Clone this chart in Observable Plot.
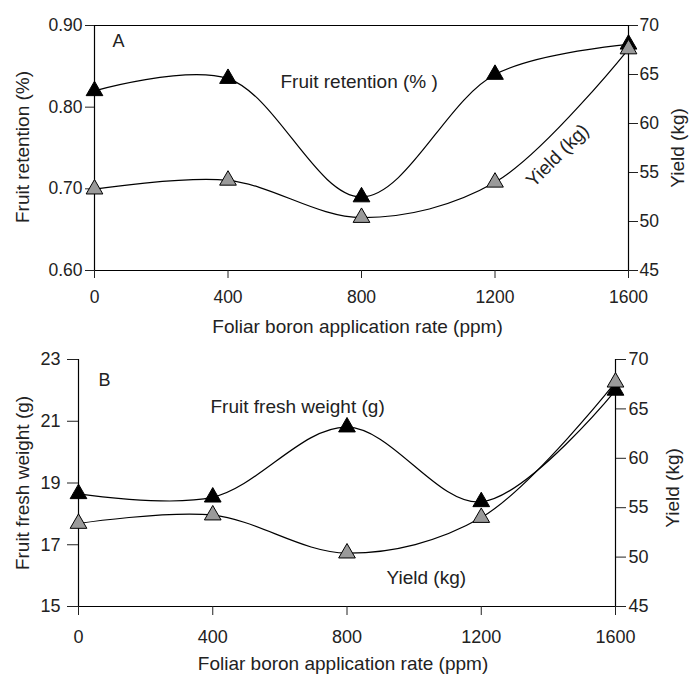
<!DOCTYPE html>
<html>
<head>
<meta charset="utf-8">
<script src="https://cdn.jsdelivr.net/npm/d3@7"></script>
<script src="https://cdn.jsdelivr.net/npm/@observablehq/plot@0.6"></script>
<style>
  body { margin: 0; background: #fff; }
  #chart svg { display: block; }
</style>
</head>
<body>
<div id="chart"></div>
<script>
// ---- data ----
const rates = [0, 400, 800, 1200, 1600];
const fruitRetention = [0.82, 0.835, 0.69, 0.84, 0.877];   // panel A, left axis
const yieldA = [53.3, 54.2, 50.4, 54.0, 67.6];              // panel A, right axis (kg)
const fruitWeight = [18.65, 18.54, 20.81, 18.39, 22.0];     // panel B, left axis (g)
const yieldB = [53.4, 54.25, 50.4, 54.0, 67.7];             // panel B, right axis (kg)
const rateTicks = [0, 400, 800, 1200, 1600];
const retentionTicks = [0.6, 0.7, 0.8, 0.9];
const weightTicks = [15, 17, 19, 21, 23];
const yieldTicks = [45, 50, 55, 60, 65, 70];
const yieldDomain = [45, 70];
const retentionDomain = [0.6, 0.9];
const weightDomain = [15, 23];
const xTitle = "Foliar boron application rate (ppm)";

const font = "'Liberation Sans', Arial, Helvetica, sans-serif";
const ink = "#222";

// map right-axis (yield) values into the left-axis domain
const toLeft = (dom) => d3.scaleLinear().domain(yieldDomain).range(dom);

function panel(opts) {
  const {leftDomain, leftTicks, leftFormat, leftVals, yieldVals, height,
         marginTop, marginBottom, marginLeft, marginRight, box, cfg} = opts;
  const map = toLeft(leftDomain);
  const black = rates.map((r, i) => ({x: r, y: leftVals[i]}));
  const grey = rates.map((r, i) => ({x: r, y: map(yieldVals[i])}));
  const marks = [
    Plot.ruleX([rateTicks[0], rateTicks[rateTicks.length - 1]], {stroke: "black", strokeWidth: 1.2}),
    Plot.ruleY([leftDomain[0]], {stroke: "black", strokeWidth: 1.2}),
  ];
  if (box) marks.push(Plot.ruleY([leftDomain[1]], {stroke: "black", strokeWidth: 1.2}));
  marks.push(
    Plot.axisX(rateTicks, {tickSize: cfg.xTick, tickPadding: cfg.xPad, fontSize: cfg.xFont, label: null,
      tickFormat: d => String(d)}),
    Plot.axisY(leftTicks, {anchor: "left", tickSize: cfg.lTick, tickPadding: cfg.lPad, fontSize: cfg.yFont,
      tickFormat: leftFormat, label: null}),
    Plot.axisY(yieldTicks.map(map), {anchor: "right", tickSize: cfg.rTick, tickPadding: cfg.rPad, fontSize: cfg.yFont,
      tickFormat: d => d3.format(".0f")(map.invert(d)), label: null}),
    Plot.line(black, {x: "x", y: "y", curve: "catmull-rom", stroke: "black", strokeWidth: 1.2}),
    Plot.line(grey, {x: "x", y: "y", curve: "catmull-rom", stroke: "black", strokeWidth: 1.2}),
    Plot.dot(black, {x: "x", y: "y", symbol: "triangle", r: 6.2, fill: "black", stroke: "black", strokeWidth: 1}),
    Plot.dot(grey, {x: "x", y: "y", symbol: "triangle", r: 6.2, fill: "#9a9a9a", stroke: "black", strokeWidth: 1}),
    // axis titles
    Plot.text([xTitle], {frameAnchor: "bottom", textAnchor: "middle", lineAnchor: "bottom", dx: cfg.xtDx, dy: cfg.xtDy, fontSize: 19, fill: ink}),
    Plot.text([cfg.leftTitle], {frameAnchor: "left", textAnchor: "middle", rotate: -90, lineAnchor: "middle", dx: cfg.ltDx, dy: cfg.ltDy, fontSize: 19, fill: ink}),
    Plot.text(["Yield (kg)"], {frameAnchor: "right", textAnchor: "middle", rotate: -90, lineAnchor: "middle", dx: cfg.rtDx, dy: cfg.rtDy, fontSize: 19, fill: ink}),
    ...cfg.annotations
  );
  return Plot.plot({
    width: 690, height, marginTop, marginBottom, marginLeft, marginRight,
    style: {fontFamily: font, color: ink, background: "white", overflow: "visible"},
    x: {domain: [rateTicks[0], rateTicks[rateTicks.length - 1]]},
    y: {domain: leftDomain},
    marks
  });
}

const plotA = panel({
  leftDomain: retentionDomain, leftTicks: retentionTicks, leftFormat: d3.format(".2f"),
  leftVals: fruitRetention, yieldVals: yieldA, height: 340,
  marginTop: 25, marginBottom: 70, marginLeft: 94, marginRight: 62, box: true,
  cfg: {
    xTick: 8, xPad: 12, xFont: 17.5, lTick: 9, lPad: 3, rTick: 9, rPad: 2, yFont: 17.5,
    xtDx: -4, xtDy: 62, leftTitle: "Fruit retention (%)", ltDx: -72, ltDy: -1, rtDx: 49, rtDy: 0,
    annotations: [
      Plot.text(["A"], {frameAnchor: "top-left", textAnchor: "start", lineAnchor: "bottom", dx: 18, dy: 21, fontSize: 18, fill: ink}),
      Plot.text(["Fruit retention (% )"], {frameAnchor: "top-left", textAnchor: "start", lineAnchor: "bottom", dx: 186, dy: 62, fontSize: 19, fill: ink}),
      Plot.text(["Yield (kg)"], {frameAnchor: "top-left", textAnchor: "middle", lineAnchor: "middle", rotate: -45, dx: 463, dy: 130, fontSize: 19, fill: ink})
    ]
  }
});

const plotB = panel({
  leftDomain: weightDomain, leftTicks: weightTicks, leftFormat: d3.format(".0f"),
  leftVals: fruitWeight, yieldVals: yieldB, height: 337,
  marginTop: 19, marginBottom: 71, marginLeft: 78, marginRight: 75, box: false,
  cfg: {
    xTick: 9, xPad: 15, xFont: 18, lTick: 11, lPad: 7, rTick: 10, rPad: 3, yFont: 18,
    xtDx: -4, xtDy: 63, leftTitle: "Fruit fresh weight (g)", ltDx: -56, ltDy: 0, rtDx: 57, rtDy: 5,
    annotations: [
      Plot.text(["B"], {frameAnchor: "top-left", textAnchor: "start", lineAnchor: "bottom", dx: 20, dy: 26, fontSize: 18, fill: ink}),
      Plot.text(["Fruit fresh weight (g)"], {frameAnchor: "top-left", textAnchor: "start", lineAnchor: "bottom", dx: 132, dy: 53, fontSize: 19, fill: ink}),
      Plot.text(["Yield (kg)"], {frameAnchor: "top-left", textAnchor: "start", lineAnchor: "bottom", dx: 308, dy: 224, fontSize: 19, fill: ink})
    ]
  }
});

document.getElementById("chart").append(plotA, plotB);
</script>
</body>
</html>
